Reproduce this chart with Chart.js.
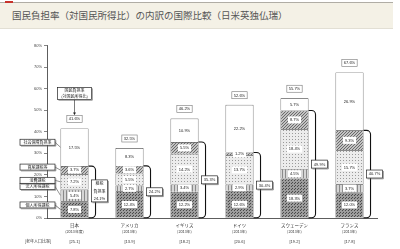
<!DOCTYPE html>
<html>
<head>
<meta charset="utf-8">
<script src="https://cdn.jsdelivr.net/npm/chart.js@4"></script>
<style>
html, body { margin: 0; padding: 0; background: #fff; width: 400px; height: 249px; overflow: hidden; }
#head { position: relative; height: 30px; }
#band { position: absolute; left: 0; top: 2px; width: 393px; height: 25px; background: #f4f1e6; border-top: 1px solid #b0ada5; border-bottom: 1px solid #e2dfd4; }
#red { position: absolute; left: 5px; top: 1px; width: 8px; height: 2px; background: #c8332b; }
#title { position: absolute; left: 12px; top: 8px; font: 9.5px "Noto Sans CJK JP"; color: #555; white-space: nowrap; }
canvas { display: block; }
</style>
</head>
<body>
<div id="head"><div id="band"></div><div id="red"></div><div id="title">国民負担率（対国民所得比）の内訳の国際比較（日米英独仏瑞）</div></div>
<canvas id="c" width="400" height="219"></canvas>
<script>
(function () {
    'use strict';

    // categories
    const countries = ['日本', 'アメリカ', 'イギリス', 'ドイツ', 'スウェーデン', 'フランス'];
    const years = ['(2013年度)', '(2013年)', '(2013年)', '(2013年)', '(2013年)', '(2013年)'];
    const elderly = ['[25.1]', '[13.9]', '[18.2]', '[20.6]', '[19.2]', '[17.8]'];

    // series (% of national income), bottom -> top
    const individual = [7.8, 12.4, 12.2, 12.6, 18.3, 12.0];
    const corporate = [5.4, 2.7, 3.4, 2.9, 4.5, 3.7];
    const consumption = [7.2, 5.5, 14.2, 13.7, 18.4, 15.7];
    const asset = [3.7, 3.6, 5.5, 1.2, 8.7, 9.3];
    const social = [17.5, 8.3, 10.9, 22.2, 5.7, 26.9];

    // labelled totals
    const taxTotal = [24.1, 24.2, 35.3, 30.4, 49.9, 40.7];
    const total = [41.6, 32.5, 46.2, 52.6, 55.7, 67.6];

    const seriesNames = ['個人所得課税', '法人所得課税', '消費課税', '資産課税等', '社会保障負担率'];
    const yTicks = [0, 10, 20, 30, 40, 50, 60, 70, 80];

    const CJK = '"Noto Sans CJK JP"';
    const ink = '#333';

    function pattern(bg, fg, kind) {
        let t = document.createElement('canvas');
        t.width = 3; t.height = 3;
        let x = t.getContext('2d');
        x.fillStyle = bg;
        x.fillRect(0, 0, 3, 3);
        x.fillStyle = fg;
        if (kind === 'dots') {
            x.fillRect(0, 0, 1, 1);
            x.fillRect(1, 2, 1, 1);
        } else if (kind === 'vline') {
            x.fillRect(0, 0, 1, 3);
        } else if (kind === 'sparse') {
            x.fillRect(1, 1, 1, 1);
        } else if (kind === 'grid') {
            x.fillRect(0, 0, 1, 1);
            x.fillRect(2, 1, 1, 1);
            x.fillRect(1, 2, 1, 1);
        }
        return x.createPattern(t, 'repeat');
    }

    const fills = [
        pattern('#9c9c9c', '#4a4a4a', 'dots'),
        pattern('#d6d6d6', '#8a8a8a', 'vline'),
        pattern('#ececec', '#9a9a9a', 'sparse'),
        pattern('#c2c2c2', '#6a6a6a', 'grid'),
        '#ffffff'
    ];

    function tag(c, text, x, y, boxed) {
        c.font = '4px "Liberation Sans"';
        let w = c.measureText(text).width + 4;
        c.fillStyle = '#fff';
        c.fillRect(x - w / 2, y - 3.5, w, 7);
        if (boxed) {
            c.strokeStyle = '#777';
            c.lineWidth = 0.6;
            c.strokeRect(x - w / 2, y - 3.5, w, 7);
        }
        c.fillStyle = '#222';
        c.textAlign = 'center';
        c.textBaseline = 'middle';
        c.fillText(text, x, y + 0.3);
    }

    function box(c, lines, x, y, w, h, font) {
        c.fillStyle = '#fff';
        c.fillRect(x, y, w, h);
        c.strokeStyle = '#222';
        c.lineWidth = 0.7;
        c.strokeRect(x, y, w, h);
        c.strokeStyle = '#666';
        c.beginPath();
        c.moveTo(x + 1, y + h + 0.8);
        c.lineTo(x + w + 0.8, y + h + 0.8);
        c.lineTo(x + w + 0.8, y + 1);
        c.stroke();
        c.font = font;
        c.fillStyle = '#222';
        c.textAlign = 'center';
        c.textBaseline = 'middle';
        let lh = h / lines.length;
        lines.forEach((s, k) => c.fillText(s, x + w / 2, y + lh * (k + 0.5) + 0.3));
    }

    const overlay = {
        id: 'overlay',
        afterDatasetsDraw(chart) {
            const c = chart.ctx;
            const metas = seriesNames.map((s, k) => chart.getDatasetMeta(k));
            const xs = chart.scales.x;
            c.save();

            countries.forEach((name, i) => {
                const bars = metas.map(m => m.data[i]);
                const right = bars[0].x + bars[0].width / 2;

                // values inside the segments
                bars.forEach((b, k) => {
                    let v = chart.data.datasets[k].data[i];
                    tag(c, v.toFixed(1) + '%', b.x, (b.y + b.base) / 2, false);
                });

                // total on top
                tag(c, total[i].toFixed(1) + '%', bars[0].x, bars[4].y - 9.5, true);

                // bracket around taxes
                let tTop = bars[3].y, tBot = bars[0].base, x1 = right + 7, r = 4;
                c.strokeStyle = '#111';
                c.lineWidth = 1.1;
                c.beginPath();
                c.moveTo(right, tTop);
                c.lineTo(x1 - r, tTop);
                c.arcTo(x1, tTop, x1, tTop + r, r);
                c.lineTo(x1, tBot - r);
                c.arcTo(x1, tBot, x1 - r, tBot, r);
                c.lineTo(right, tBot);
                c.stroke();

                let mid = (tTop + tBot) / 2;
                if (i === 0) {
                    box(c, ['租税', '負担率', taxTotal[i].toFixed(1) + '%'], right + 3, mid - 12, 16, 22, '4px ' + CJK);
                } else {
                    box(c, [taxTotal[i].toFixed(1) + '%'], right + 3, mid - 4, 16, 8, '4px "Liberation Sans"');
                }

                // category labels
                let cx = xs.getPixelForValue(i);
                c.fillStyle = '#333';
                c.textAlign = 'center';
                c.textBaseline = 'middle';
                c.font = '4.5px ' + CJK;
                c.fillText(name, cx, 195);
                c.font = '3.8px ' + CJK;
                c.fillText(years[i], cx, 201.7);
                c.font = '4px "Liberation Sans"';
                c.fillText(elderly[i], cx, 211.7);
            });

            c.font = '4px ' + CJK;
            c.fillStyle = '#333';
            c.textAlign = 'center';
            c.fillText('[老年人口比率]', 38, 211.7);

            // Japan call-outs
            const jp = metas.map(m => m.data[0]);
            const left = jp[0].x - jp[0].width / 2;
            const offs = [-4.5, -9, -1.5, -3, -5];
            c.strokeStyle = '#222';
            c.lineWidth = 0.6;
            jp.forEach((b, k) => {
                let cy = (b.y + b.base) / 2, ly = cy + offs[k];
                c.beginPath();
                c.moveTo(55, ly);
                c.lineTo(left, cy);
                c.stroke();
                box(c, [seriesNames[k]], 20, ly - 3, 35, 6, '4px ' + CJK);
            });

            // 国民負担率 note
            let top = jp[4].y;
            box(c, ['国民負担率', '(対国民所得比)'], jp[0].x - 17, top - 41, 34, 12, '4px ' + CJK);
            c.strokeStyle = '#222';
            c.lineWidth = 0.6;
            c.beginPath();
            c.moveTo(jp[0].x, top - 28.5);
            c.lineTo(jp[0].x, top - 14);
            c.stroke();
            c.fillStyle = '#222';
            c.beginPath();
            c.moveTo(jp[0].x - 1.5, top - 16);
            c.lineTo(jp[0].x + 1.5, top - 16);
            c.lineTo(jp[0].x, top - 13.5);
            c.fill();

            c.restore();
        }
    };

    const data = [individual, corporate, consumption, asset, social];

    new Chart(document.getElementById('c'), {
        type: 'bar',
        data: {
            labels: countries,
            datasets: data.map((d, k) => ({
                label: seriesNames[k],
                data: d,
                backgroundColor: fills[k],
                borderColor: ink,
                borderWidth: 0.7,
                categoryPercentage: 1,
                barPercentage: 0.51
            }))
        },
        options: {
            responsive: false,
            animation: false,
            events: [],
            layout: { padding: { top: 15.7, right: 23, bottom: 0, left: 0 } },
            plugins: { legend: { display: false }, tooltip: { enabled: false } },
            scales: {
                x: {
                    stacked: true,
                    afterFit(s) { s.height = 31; },
                    grid: { display: false },
                    border: { display: true, color: ink, width: 0.8 },
                    ticks: { display: false }
                },
                y: {
                    stacked: true,
                    min: 0,
                    max: 80,
                    afterFit(s) { s.width = 47; },
                    afterBuildTicks(s) { s.ticks = yTicks.map(v => ({ value: v })); },
                    grid: { drawOnChartArea: false, tickLength: 3, color: ink, lineWidth: 0.6 },
                    border: { display: true, color: ink, width: 0.8 },
                    ticks: {
                        padding: 2,
                        color: '#444',
                        font: { size: 4, family: 'Liberation Sans' },
                        callback: v => v + '%'
                    }
                }
            }
        },
        plugins: [overlay]
    });
})();
</script>
</body>
</html>
